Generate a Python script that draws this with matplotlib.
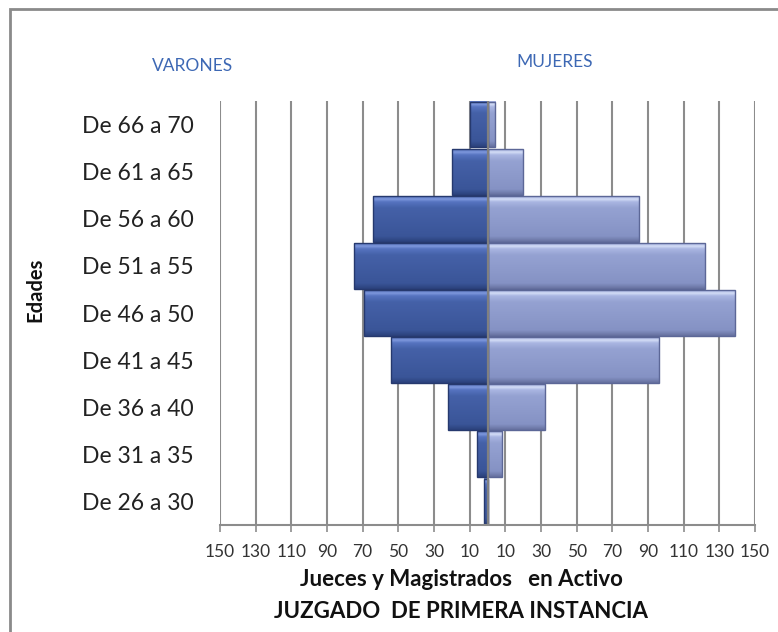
import numpy as np
import matplotlib
matplotlib.use("Agg")
import matplotlib.pyplot as plt
from matplotlib.patches import Rectangle
from matplotlib.colors import LinearSegmentedColormap

plt.rcParams['font.family'] = ['Lato', 'DejaVu Sans']

# age groups, bottom to top
edades = ['De 26 a 30', 'De 31 a 35', 'De 36 a 40', 'De 41 a 45', 'De 46 a 50',
          'De 51 a 55', 'De 56 a 60', 'De 61 a 65', 'De 66 a 70']
varones = [2, 6, 22, 54, 69, 75, 64, 20, 10]
mujeres = [0, 8, 32, 96, 139, 122, 85, 20, 4]

ticks = list(range(-150, 151, 20))
tick_labels = [str(abs(t)) for t in ticks]

fig = plt.figure(figsize=(7.78, 6.32), dpi=100)
ax = fig.add_axes([220/778, 1-525/632, 535/778, 424/632])

y = np.arange(len(edades))
h = 0.97
grid_col = '#8c8c8c'

for t in ticks:
    ax.axvline(t, color=grid_col, lw=1.5, zorder=0)

# bevelled gradient, top row of the array is the bottom edge of the bar
cm_m = LinearSegmentedColormap.from_list('m', [(0, '#2b427c'), (0.12, '#3a5598'),
                                               (0.75, '#4561a8'), (0.88, '#5674c0'),
                                               (0.94, '#7d97dc'), (1, '#5a76bf')])
cm_f = LinearSegmentedColormap.from_list('f', [(0, '#66719f'), (0.12, '#8592c4'),
                                               (0.75, '#95a2d2'), (0.88, '#aab6e2'),
                                               (0.94, '#d3dcf6'), (1, '#a6b2df')])
grad = np.linspace(0, 1, 64).reshape(-1, 1)


def bars(vals, sign, cmap, edge):
    rects = ax.barh(y, sign * np.array(vals), height=h, color='none',
                    edgecolor=edge, lw=1.0, zorder=3)
    for r in rects:
        w = r.get_width()
        if w == 0:
            continue
        x0, x1 = sorted([r.get_x(), r.get_x() + w])
        y0 = r.get_y()
        ax.imshow(grad, cmap=cmap, aspect='auto', origin='lower',
                  extent=(x0, x1, y0, y0 + r.get_height()), zorder=2)


bars(varones, -1, cm_m, '#26396e')
bars(mujeres, 1, cm_f, '#5c6797')

# vertical axis at zero
ax.axvline(0, color='#808080', lw=1.6, zorder=4)

ax.set_xlim(-150, 150)
ax.set_ylim(-0.5, len(edades) - 0.5)
ax.set_xticks(ticks)
ax.set_xticklabels(tick_labels, fontsize=12.5, color='#333333')
ax.set_yticks(y)
ax.set_yticklabels(edades, fontsize=16.5, color='#222222')
ax.tick_params(axis='y', length=0, pad=19)
ax.tick_params(axis='x', length=5, width=1.2, color=grid_col, pad=9)

for s in ['top', 'right', 'left']:
    ax.spines[s].set_visible(False)
ax.spines['bottom'].set_color(grid_col)
ax.spines['bottom'].set_linewidth(1.5)
ax.spines['bottom'].set_zorder(5)

fig.text(35/778, 1-290/632, 'Edades', rotation=90, fontsize=14.5, fontweight='bold',
         ha='center', va='center', color='#111111')
fig.text(193/778, 1-66/632, 'VARONES', fontsize=12.5, color='#3d68b4', ha='center', va='center')
fig.text(555/778, 1-62/632, 'MUJERES', fontsize=12.5, color='#3d68b4', ha='center', va='center')
fig.text(461/778, 1-580/632, 'Jueces y Magistrados   en Activo', fontsize=16,
         fontweight='bold', ha='center', va='center', color='#111111')
fig.text(461/778, 1-612/632, 'JUZGADO  DE PRIMERA INSTANCIA', fontsize=16,
         fontweight='bold', ha='center', va='center', color='#111111')

# outer frame
fig.patches.append(Rectangle((10/778, -0.02), 1.0, 1 - 9/632 + 0.02, transform=fig.transFigure,
                             fill=False, edgecolor='#8a8a8a', lw=2))

fig.savefig('out.png', dpi=100)
